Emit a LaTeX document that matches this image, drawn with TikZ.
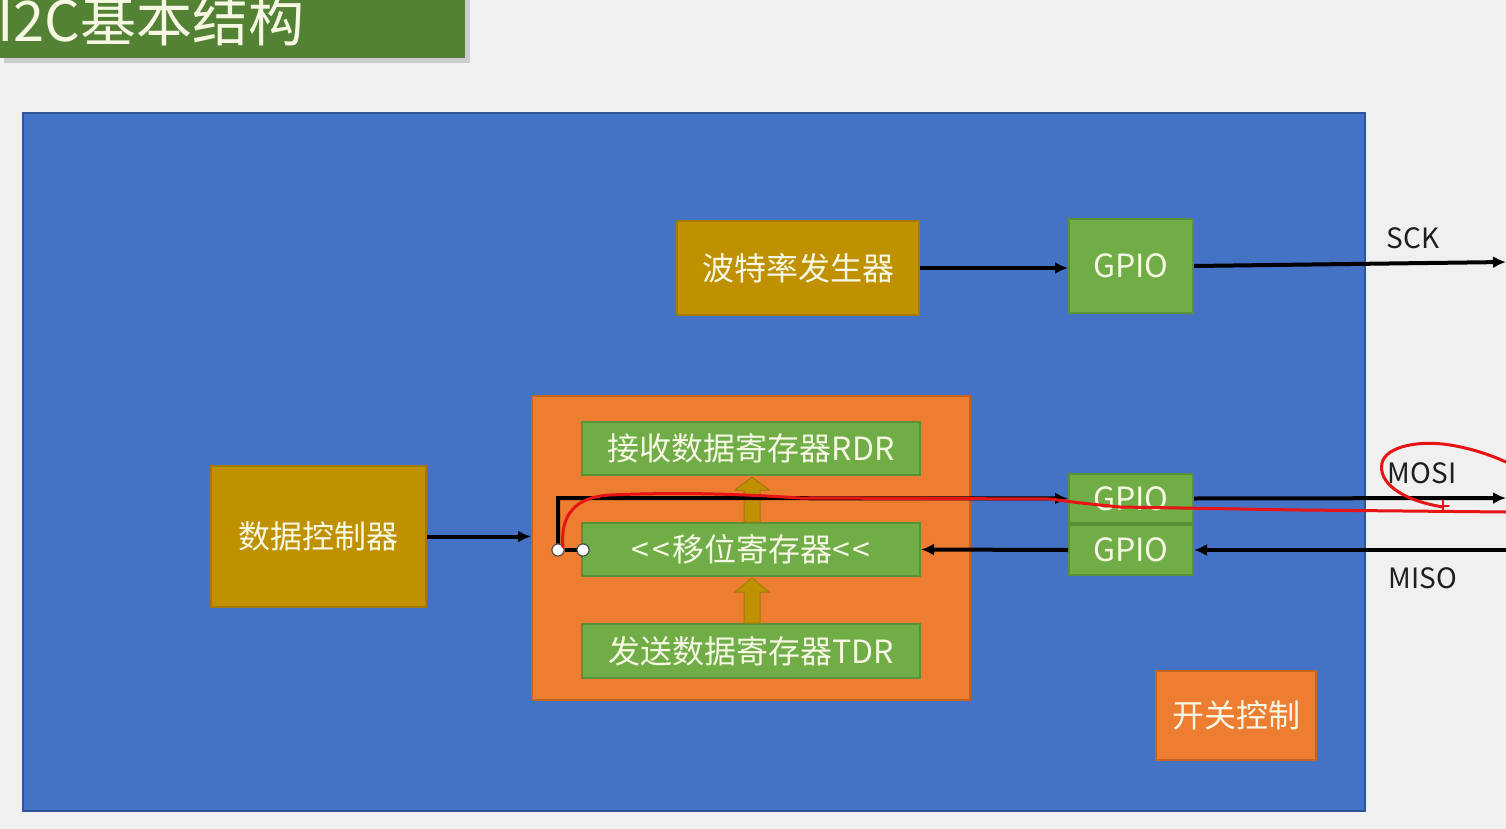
\documentclass[tikz,border=0pt]{standalone}
\usepackage{fontspec}
\setmainfont{Noto Sans CJK SC}
\usetikzlibrary{arrows.meta}
\definecolor{bg}{RGB}{240,240,240}
\definecolor{titlegreen}{RGB}{84,130,53}
\definecolor{chipblue}{RGB}{68,114,196}
\definecolor{chipborder}{RGB}{47,85,151}
\definecolor{gold}{RGB}{191,144,0}
\definecolor{goldborder}{RGB}{160,122,10}
\definecolor{grn}{RGB}{112,173,71}
\definecolor{grnborder}{RGB}{88,145,55}
\definecolor{orng}{RGB}{237,125,49}
\definecolor{orngborder}{RGB}{197,100,30}
\definecolor{txt}{RGB}{246,248,228}
\definecolor{lbl}{RGB}{30,30,30}
\definecolor{annot}{RGB}{230,20,20}
\tikzset{
  box/.style={rectangle, inner sep=0pt, line width=2pt, text=txt, font=\fontsize{32}{34}\selectfont},
  goldbox/.style={box, fill=gold, draw=goldborder},
  greenbox/.style={box, fill=grn, draw=grnborder},
  orangebox/.style={box, fill=orng, draw=orngborder},
  wire/.style={line width=4pt, draw=black, -{Latex[length=13pt,width=12pt]}},
  sig/.style={text=lbl, font=\fontsize{28}{30}\selectfont, inner sep=0pt},
  pin/.style={circle, fill=white, draw=black!70, line width=1pt, minimum size=12pt, inner sep=0pt},
  blockarrow/.style={fill=gold, draw=goldborder, line width=1pt},
  redmark/.style={draw=annot, line width=3pt, line cap=round, line join=round}
}
\begin{document}
\begin{tikzpicture}[x=1pt,y=-1pt]
\useasboundingbox (0,0) rectangle (1506,829);
\clip (0,0) rectangle (1506,829);
\fill[bg] (0,0) rectangle (1506,829);
% title
\fill[black!20] (4,-5) rectangle (470,63);
\fill[titlegreen] (0,-5) rectangle (465,58);
\node[anchor=base west, inner sep=0pt, text=txt, font=\fontsize{56}{58}\selectfont] (title) at (-3,42) {I2C基本结构};
% chip body
\node[rectangle, fill=chipblue, draw=chipborder, line width=2pt, minimum width=1342pt, minimum height=698pt, inner sep=0pt] (chip) at (694,462) {};
% baud rate generator
\node[goldbox, minimum width=242pt, minimum height=94pt] (baud) at (798,268) {波特率发生器};
\node[greenbox, minimum width=124pt, minimum height=94pt] (gpioA) at (1131,266) {GPIO};
% shift block
\node[orangebox, minimum width=438pt, minimum height=304pt] (sr) at (751,548) {};
\node[greenbox, minimum width=338pt, minimum height=53pt] (rdr) at (751,448.5) {接收数据寄存器RDR};
\node[greenbox, minimum width=338pt, minimum height=53pt] (shift) at (751,549.5) {{<}\kern3pt{<}\kern2pt移位寄存器{<}\kern3pt{<}};
\node[greenbox, minimum width=338pt, minimum height=54pt] (tdr) at (751,651) {发送数据寄存器TDR};
% block arrows
\filldraw[blockarrow] (744,623) -- (744,592) -- (735,592) -- (752,578) -- (769,592) -- (760,592) -- (760,623) -- cycle;
\filldraw[blockarrow] (744,522) -- (744,490) -- (735,490) -- (752,477) -- (769,490) -- (760,490) -- (760,522) -- cycle;
% data controller
\node[goldbox, minimum width=215pt, minimum height=141pt] (dc) at (318.5,536.5) {数据控制器};
% GPIOs for MOSI / MISO
\node[greenbox, minimum width=124pt, minimum height=49pt] (gpioB) at (1131,498.5) {GPIO};
\node[greenbox, minimum width=124pt, minimum height=50pt] (gpioC) at (1131,550) {GPIO};
% switch control
\node[orangebox, minimum width=160pt, minimum height=89pt] (sw) at (1236,715.5) {开关控制};
% outside labels
\node[sig] (sck) at (1413,238) {SCK};
\node[sig] (mosi) at (1422,473) {MOSI};
\node[sig] (miso) at (1423,578) {MISO};
% free ends
\coordinate (sckEnd) at (1506,262);
\coordinate (mosiEnd) at (1506,498);
\coordinate (misoEnd) at (1506,550);
% connectors
\draw[wire] (baud.east) -- (gpioA.west |- baud.east);
\draw[wire] (gpioA.east) -- (sckEnd);
\draw[wire] (dc.east) -- (sr.west |- dc.east);
\draw[wire] (gpioB.east) -- (mosiEnd);
\draw[wire] (misoEnd) -- (gpioC.east);
\draw[wire] (gpioC.west) -- (shift.east);
% switch from shift register to MOSI
\node[pin] (p1) at (558,550) {};
\node[pin] (p2) at (583,550) {};
\draw[line width=4pt] (p1) -- (p2);
\draw[wire] (p1.north) -- (558,498) -- (gpioB.west);
\node[pin] at (558,550) {};
\node[pin] at (583,550) {};
% red annotations
\draw[redmark] (563,547) .. controls (560,515) and (575,497) .. (610,495)
  .. controls (680,492) and (740,494) .. (800,498) -- (1050,499)
  .. controls (1080,503) .. (1120,507) -- (1300,510) -- (1506,512);
\draw[redmark] (1443,507) .. controls (1400,500) and (1378,482) .. (1382,463)
  .. controls (1386,446) and (1420,440) .. (1450,445)
  .. controls (1475,449) and (1495,457) .. (1506,462);
\draw[redmark, line width=1.2pt] (1443,500) -- (1443,512) (1437,506) -- (1449,506);
\end{tikzpicture}
\end{document}
